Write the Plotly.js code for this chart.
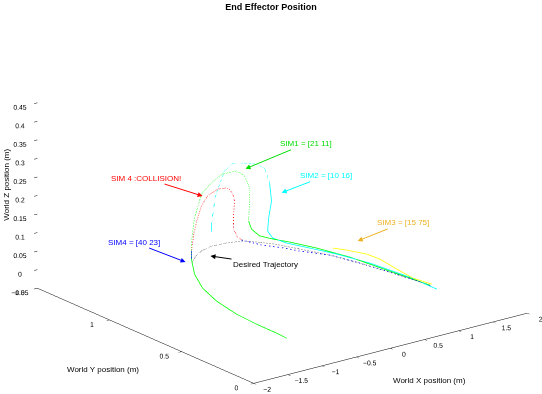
<!DOCTYPE html>
<html><head><meta charset="utf-8">
<script src="https://cdn.plot.ly/plotly-3.0.1.min.js"></script>
<style>html,body{margin:0;padding:0;background:#fff}#chart{width:542px;height:394px}</style>
</head><body><div id="chart"></div>
<script>
// ---- data (metres) ----
const desiredX = [-0.459,-0.253,-0.062,0.114,0.307,0.488,0.605,0.730,0.856,1.007,1.116,1.204,1.267,1.298];
const desiredY = [1.162,1.231,1.273,1.288,1.282,1.263,1.215,1.149,1.035,0.899,0.742,0.575,0.432,0.328];
const desiredZ = [0,0,0,0,0,0,0,0,0,0,0,0,0,0];

const sim1X = [-1.137,-1.124,-1.120,-1.095,-1.006,-0.862,-0.642,-0.354,-0.333,-0.288,-0.183,-0.033,0.131,0.341,0.460,0.535,0.535,0.520,0.565,0.685,0.817,0.911,1.034,1.150,1.225,1.301];
const sim1Y = [0.180,0.256,0.397,0.548,0.728,0.894,1.054,1.212,1.221,1.222,1.223,1.225,1.226,1.228,1.230,1.230,1.230,1.230,1.231,1.232,1.204,1.131,1.002,0.827,0.585,0.343];
const sim1Z = [0,0,0,0,0,0,0,0,0.046,0.106,0.166,0.188,0.204,0.202,0.183,0.147,0.103,0.058,0.034,0.010,0,0,0,0,0,0];

const sim2X = [-0.033,-0.033,0.026,0.161,0.281,0.430,0.640,0.760,0.834,0.864,0.820,0.805,0.838,0.862,0.969,1.093,1.209,1.278,1.282];
const sim2Y = [1.225,1.225,1.225,1.227,1.228,1.229,1.231,1.233,1.233,1.234,1.233,1.233,1.214,1.128,1.020,0.891,0.716,0.492,0.286];
const sim2Z = [0.053,0.080,0.150,0.211,0.224,0.219,0.206,0.187,0.145,0.095,0.052,0.017,0,0,0,0,0,0,0];

const sim3X = [1.182,1.270,1.370,1.385,1.332,1.291,1.340];
const sim3Y = [0.961,0.905,0.814,0.731,0.587,0.457,0.348];
const sim3Z = [0,0,0,0,0,0,0];

const sim4X = [-1.120,-1.095,-1.006,-0.862,-0.642,-0.354,-0.333,0.416,0.589,0.738,0.814,1.007,1.116,1.204,1.267,1.298];
const sim4Y = [0.397,0.548,0.728,0.894,1.054,1.212,1.221,1.229,1.172,1.083,1.015,0.899,0.742,0.575,0.432,0.328];
const sim4Z = [0,0,0,0,0,0,0.019,0.012,0,0,0,0,0,0,0,0];

const collisionX = [-0.333,-0.303,-0.258,-0.183,-0.093,0.057,0.206,0.281,0.311,0.296,0.296,0.341,0.416];
const collisionY = [1.221,1.222,1.222,1.223,1.224,1.226,1.227,1.228,1.228,1.228,1.228,1.228,1.229];
const collisionZ = [0.019,0.058,0.096,0.133,0.156,0.167,0.163,0.146,0.123,0.088,0.050,0.026,0.012];

const labels = {
  sim1: 'SIM1 = [21 11]', sim2: 'SIM2 = [10 16]', sim3: 'SIM3 = [15 75]',
  collision: 'SIM 4 :COLLISION!', sim4: 'SIM4 = [40 23]', desired: 'Desired Trajectory'
};
const axisTitles = {x:'World X position (m)', y:'World Y position (m)', z:'World Z position (m)'};

const FONT = 'Liberation Sans, Arial, Helvetica, sans-serif';

function seg(X, Y, Z, a, b, color, dash, width) {
  return {type:'scatter3d', mode:'lines', x:X.slice(a,b), y:Y.slice(a,b), z:Z.slice(a,b),
    line:{color:color, width:width||1.6, dash:dash||'solid'}, hoverinfo:'skip', showlegend:false};
}

const traces = [
  seg(sim4X, sim4Y, sim4Z, 0, 7, '#0000ff'),
  seg(sim4X, sim4Y, sim4Z, 7, undefined, '#0000ff', 'dash'),
  seg(sim2X, sim2Y, sim2Z, 0, 9, '#00ffff', 'dot'),
  seg(sim2X, sim2Y, sim2Z, 8, undefined, '#00ffff'),
  seg(sim3X, sim3Y, sim3Z, 0, undefined, '#ffff00'),
  seg(sim1X, sim1Y, sim1Z, 0, 8, '#00ff00'),
  seg(sim1X, sim1Y, sim1Z, 7, 18, '#00ff00', 'dot'),
  seg(sim1X, sim1Y, sim1Z, 17, undefined, '#00ff00'),
  seg(desiredX, desiredY, desiredZ, 0, undefined, '#333333', 'dot', 1.3),
  seg(collisionX, collisionY, collisionZ, 0, undefined, '#ff0000', 'dot')
];

function ann(x, y, z, ax, ay, text, color) {
  return {x:x, y:y, z:z, ax:ax, ay:ay, text:text, showarrow:true, arrowhead:2, arrowsize:1,
    arrowwidth:1, arrowcolor:color, font:{family:FONT, size:8, color:color}};
}

function axis(range, dtick, line) {
  return {title:{text:''}, range:range, autorange:false,
    tickmode:'linear', tick0:range[0], dtick:dtick, tickangle:0,
    showbackground:false, showgrid:false, zeroline:false, showspikes:false,
    showline:line, linecolor:'#000', linewidth:1, ticks:'outside', ticklen:4, tickcolor:'#000',
    tickfont:{family:FONT, size:9, color:'#000'}};
}

function title2d(x, y, text, angle) {
  return {xref:'paper', yref:'paper', x:x, y:y, xanchor:'center', yanchor:'middle', text:text,
    showarrow:false, textangle:angle||0, font:{family:FONT, size:8, color:'#000'}};
}

// camera: orthographic view direction, shifted sideways along the screen-right vector
const dir = [-0.5716, -0.7483, 0.3358];
const right = [0.7945, -0.6069, 0];
const k = 5, s = 1.85, shift = -0.0607;
const c = {x:right[0]*shift, y:right[1]*shift, z:0};

const layout = {
  width:542, height:394, margin:{l:0, r:0, t:0, b:0},
  paper_bgcolor:'#fff', showlegend:false, hovermode:false,
  title:{text:'<b>End Effector Position</b>', font:{family:FONT, size:9, color:'#000'},
    x:0.5, xanchor:'center', y:0.99, yanchor:'top'},
  annotations:[
    title2d(0.793, 0.033, axisTitles.x),
    title2d(0.190, 0.063, axisTitles.y),
    title2d(0.012, 0.530, axisTitles.z, -90)
  ],
  scene:{
    domain:{x:[0,1], y:[0,0.9446]},
    aspectmode:'manual', aspectratio:{x:1*s, y:1.036*s, z:0.572*s},
    camera:{projection:{type:'orthographic'}, up:{x:0,y:0,z:1}, center:c,
      eye:{x:dir[0]*k + c.x, y:dir[1]*k + c.y, z:dir[2]*k + c.z}},
    xaxis:axis([-2,2], 0.5, true),
    yaxis:axis([0,1.5], 0.5, true),
    zaxis:axis([-0.05,0.45], 0.05, false),
    annotations:[
      ann(0.475, 1.23, 0.201, 60, -25, labels.sim1, '#00dd00'),
      ann(1.014, 1.235, 0.110, 44, -17, labels.sim2, '#00ffff'),
      ann(1.561, 0.967, 0, 45, -18, labels.sim3, '#edb120'),
      ann(-0.168, 1.223, 0.159, -57, -18, labels.collision, '#ff0000'),
      ann(-0.472, 1.197, 0, -52, -20, labels.sim4, '#0000ff'),
      ann(-0.115, 1.193, 0, 55, 8, labels.desired, '#000000')
    ]
  }
};

Plotly.newPlot('chart', traces, layout, {displayModeBar:false});
</script>
</body></html>
